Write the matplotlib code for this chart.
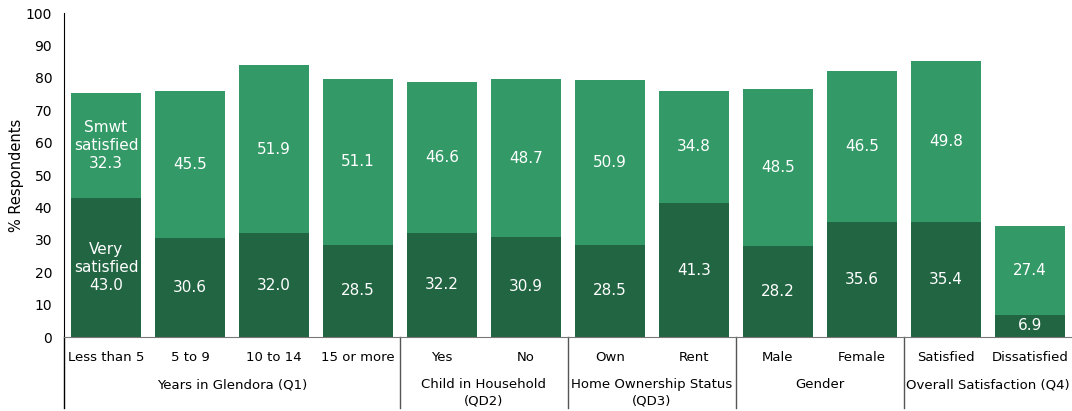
import numpy as np
import matplotlib.pyplot as plt

# Survey results by subgroup (% respondents)
categories = ['Less than 5', '5 to 9', '10 to 14', '15 or more',
              'Yes', 'No', 'Own', 'Rent', 'Male', 'Female',
              'Satisfied', 'Dissatisfied']
very_satisfied = [43.0, 30.6, 32.0, 28.5, 32.2, 30.9, 28.5, 41.3, 28.2, 35.6, 35.4, 6.9]
smwt_satisfied = [32.3, 45.5, 51.9, 51.1, 46.6, 48.7, 50.9, 34.8, 48.5, 46.5, 49.8, 27.4]

groups = ['Years in Glendora (Q1)', 'Child in Household\n(QD2)',
          'Home Ownership Status\n(QD3)', 'Gender', 'Overall Satisfaction (Q4)']
group_sizes = [4, 2, 2, 2, 2]

dark = '#226542'
light = '#339966'

fig = plt.figure(figsize=(10.72, 4.11), dpi=100)
ax = fig.add_axes([0.0597, 0.180, 0.9403, 0.788])

x = np.arange(len(categories))
w = 0.845
ax.bar(x, very_satisfied, w, color=dark)
ax.bar(x, smwt_satisfied, w, bottom=very_satisfied, color=light)

for i in x:
    v = very_satisfied[i]
    s = smwt_satisfied[i]
    lab_v = f'{v:.1f}'
    lab_s = f'{s:.1f}'
    if i == 0:
        lab_v = 'Very\nsatisfied\n' + lab_v
        lab_s = 'Smwt\nsatisfied\n' + lab_s
    ax.text(i, v / 2, lab_v, ha='center', va='center', color='white',
            fontsize=11, linespacing=1.25)
    ax.text(i, v + s / 2, lab_s, ha='center', va='center', color='white',
            fontsize=11, linespacing=1.25)

ax.set_xlim(-0.5, len(categories) - 0.5)
ax.set_ylim(0, 100)
ax.set_yticks(range(0, 101, 10))
ax.tick_params(axis='y', length=0, labelsize=10, pad=8.5)
ax.set_xticks([])
ax.set_ylabel('% Respondents', fontsize=10.5)
ax.yaxis.set_label_coords(-0.040, 0.5)

for side in ['top', 'right']:
    ax.spines[side].set_visible(False)
ax.spines['bottom'].set_color('#777777')
ax.spines['left'].set_color('black')

# category and group labels below the axis
tr = ax.get_xaxis_transform()
for i, c in enumerate(categories):
    ax.text(i, -0.062, c, transform=tr, ha='center', va='center', fontsize=9.5)

start = 0
for g, n in zip(groups, group_sizes):
    mid = start + (n - 1) / 2
    ax.text(mid, -0.127, g, transform=tr, ha='center', va='top',
            fontsize=9.5, linespacing=1.3)
    start += n

# separators between groups
ax.plot([-0.5, -0.5], [0, -0.22], transform=tr, color='black', lw=1, clip_on=False)
edge = -0.5
for n in group_sizes[:-1]:
    edge += n
    ax.plot([edge, edge], [0, -0.22], transform=tr, color='#555555', lw=1, clip_on=False)

fig.savefig('out.png', dpi=100)
